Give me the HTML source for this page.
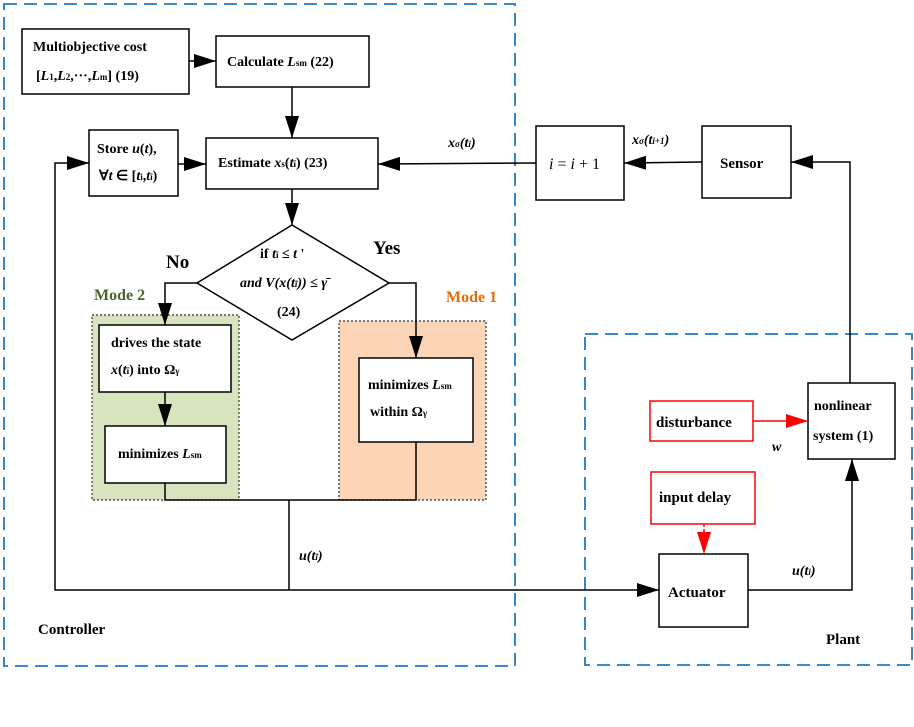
<!DOCTYPE html>
<html><head><meta charset="utf-8"><style>
html,body{margin:0;padding:0;background:#fff;}
svg{display:block;font-family:"Liberation Serif",serif;font-weight:bold;}
</style></head><body>
<svg width="914" height="727" viewBox="0 0 914 727" xmlns="http://www.w3.org/2000/svg">
<defs>
<marker id="ab" markerWidth="22" markerHeight="14" refX="22" refY="7" orient="auto" markerUnits="userSpaceOnUse"><path d="M0,0 L22,7 L0,14 z" fill="#000"/></marker>
<marker id="ar" markerWidth="22" markerHeight="14" refX="22" refY="7" orient="auto" markerUnits="userSpaceOnUse"><path d="M0,0 L22,7 L0,14 z" fill="#f00"/></marker>
</defs>
<rect x="4" y="4" width="511" height="662" fill="none" stroke="#1f78c8" stroke-width="1.8" stroke-dasharray="13,7"/>
<rect x="585" y="334" width="327" height="331" fill="none" stroke="#1f78c8" stroke-width="1.8" stroke-dasharray="13,7"/>
<rect x="92" y="315" width="147" height="185" fill="#d7e4bd" stroke="#333" stroke-width="1.2" stroke-dasharray="2,2"/>
<rect x="339" y="321" width="147" height="179" fill="#fbd5b5" stroke="#333" stroke-width="1.2" stroke-dasharray="2,2"/>
<g fill="#fff" stroke="#000" stroke-width="1.5">
<rect x="22" y="29" width="167" height="65"/>
<rect x="216" y="36" width="153" height="51"/>
<rect x="206" y="138" width="172" height="51"/>
<rect x="89" y="130" width="89" height="66"/>
<polygon points="292,225 389,283 292,340 197,283"/>
<rect x="99" y="325" width="132" height="67"/>
<rect x="105" y="426" width="121" height="57"/>
<rect x="359" y="358" width="114" height="84"/>
<rect x="536" y="126" width="88" height="74"/>
<rect x="702" y="126" width="89" height="72"/>
<rect x="808" y="383" width="87" height="76"/>
<rect x="659" y="554" width="89" height="73"/>
</g>
<g fill="#fff" stroke="#f00" stroke-width="1.5">
<rect x="650" y="401" width="103" height="40"/>
<rect x="651" y="472" width="104" height="52"/>
</g>
<g fill="none" stroke="#000" stroke-width="1.5">
<line x1="189" y1="61" x2="216" y2="61" marker-end="url(#ab)"/>
<line x1="292" y1="87" x2="292" y2="138" marker-end="url(#ab)"/>
<line x1="178" y1="164" x2="206" y2="164" marker-end="url(#ab)"/>
<line x1="292" y1="189" x2="292" y2="225" marker-end="url(#ab)"/>
<polyline points="197,283 165,283 165,325" marker-end="url(#ab)"/>
<line x1="165" y1="392" x2="165" y2="426" marker-end="url(#ab)"/>
<polyline points="389,283 416,283 416,358" marker-end="url(#ab)"/>
<polyline points="165,483 165,500 416,500 416,442"/>
<line x1="289" y1="500" x2="289" y2="590"/>
<polyline points="289,590 659,590" marker-end="url(#ab)"/>
<polyline points="289,590 55,590 55,163 89,163" marker-end="url(#ab)"/>
<line x1="536" y1="163" x2="378" y2="164" marker-end="url(#ab)"/>
<line x1="702" y1="162" x2="624" y2="163" marker-end="url(#ab)"/>
<polyline points="850,383 850,162 791,162" marker-end="url(#ab)"/>
<polyline points="748,590 852,590 852,459" marker-end="url(#ab)"/>
</g>
<line x1="753" y1="421" x2="808" y2="421" stroke="#f00" stroke-width="1.5" marker-end="url(#ar)"/>
<line x1="704" y1="524" x2="704" y2="554" stroke="#f00" stroke-width="1.5" stroke-dasharray="3,2" marker-end="url(#ar)"/>
<g font-size="14" fill="#000">
<text x="33" y="51">Multiobjective cost</text>
<text x="36" y="80">[<tspan font-style="italic">L</tspan><tspan font-size="9">1</tspan>,<tspan font-style="italic">L</tspan><tspan font-size="9">2</tspan>,···,<tspan font-style="italic">L</tspan><tspan font-size="9">m</tspan>] (19)</text>
<text x="227" y="66">Calculate <tspan font-style="italic">L</tspan><tspan font-size="9">sm</tspan> (22)</text>
<text x="218" y="167">Estimate  <tspan font-style="italic">x</tspan><tspan font-size="9">s</tspan>(<tspan font-style="italic">t</tspan><tspan font-size="9">ĩ</tspan>) (23)</text>
<text x="97" y="153">Store <tspan font-style="italic">u</tspan>(<tspan font-style="italic">t</tspan>),</text>
<text x="99" y="180">∀<tspan font-style="italic">t</tspan> ∈ [<tspan font-style="italic">t</tspan><tspan font-size="9">i</tspan>,<tspan font-style="italic">t</tspan><tspan font-size="9">ĩ</tspan>)</text>
<text x="260" y="258">if  <tspan font-style="italic">t</tspan><tspan font-size="9">ĩ</tspan> ≤ <tspan font-style="italic">t</tspan> '</text>
<text x="240" y="287" font-style="italic">and V(x(t<tspan font-size="9">ĩ</tspan>)) ≤ γ̄</text>
<text x="277" y="316">(24)</text>
<text x="166" y="268" font-size="19">No</text>
<text x="373" y="254" font-size="19">Yes</text>
<text x="94" y="300" font-size="16" fill="#4f6228">Mode 2</text>
<text x="446" y="302" font-size="16" fill="#e36c09">Mode 1</text>
<text x="111" y="347">drives the state</text>
<text x="111" y="374"><tspan font-style="italic">x</tspan>(<tspan font-style="italic">t</tspan><tspan font-size="9">ĩ</tspan>) into Ω<tspan font-size="9">γ</tspan></text>
<text x="118" y="458">minimizes <tspan font-style="italic">L</tspan><tspan font-size="9">sm</tspan></text>
<text x="368" y="389">minimizes <tspan font-style="italic">L</tspan><tspan font-size="9">sm</tspan></text>
<text x="370" y="416">within  Ω<tspan font-size="9">γ</tspan></text>
<text x="299" y="560" font-style="italic">u(t<tspan font-size="9">ĩ</tspan>)</text>
<text x="448" y="147" font-style="italic">x<tspan font-size="9">σ</tspan>(t<tspan font-size="9">i</tspan>)</text>
<text x="632" y="144" font-style="italic">x<tspan font-size="9">σ</tspan>(t<tspan font-size="9">i+1</tspan>)</text>
<text x="549" y="169" font-size="16" font-weight="normal"><tspan font-style="italic">i</tspan> = <tspan font-style="italic">i</tspan> + 1</text>
<text x="720" y="168" font-size="15">Sensor</text>
<text x="656" y="427" font-size="15">disturbance</text>
<text x="659" y="502" font-size="15">input delay</text>
<text x="668" y="597" font-size="15">Actuator</text>
<text x="814" y="410">nonlinear</text>
<text x="813" y="440">system (1)</text>
<text x="772" y="451" font-style="italic">w</text>
<text x="792" y="575" font-style="italic">u(t<tspan font-size="9">i</tspan>)</text>
<text x="38" y="634" font-size="15">Controller</text>
<text x="826" y="644" font-size="15">Plant</text>
</g>
</svg>
</body></html>
